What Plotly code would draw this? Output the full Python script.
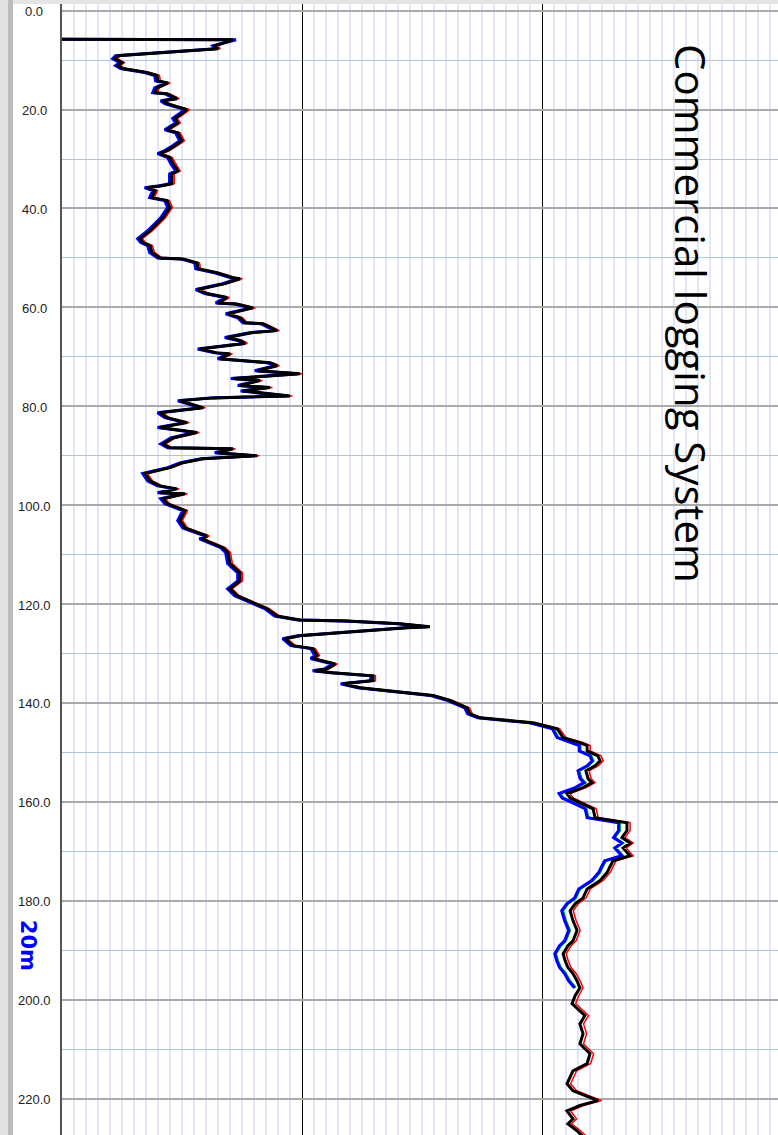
import plotly.graph_objects as go

# ---------------- data ----------------
depth = [5.8, 5.9, 7.1, 7.7, 9.1, 9.7, 10.5, 11.1, 11.7, 12.5, 13.1, 14.2, 14.6, 15.6, 16.6, 16.8, 17.8, 18.2, 18.8, 20.0,
         20.8, 21.8, 22.7, 24.1, 24.7, 26.3, 27.3, 28.3, 28.9, 29.7, 30.9, 32.4, 33.0, 35.0, 35.4, 35.8, 36.4, 37.8, 38.4, 39.8,
         41.9, 43.1, 44.5, 46.1, 46.9, 47.5, 48.9, 50.0, 50.2, 51.0, 52.2, 53.0, 54.0, 54.2, 55.2, 56.4, 57.2, 58.0, 59.1, 59.3,
         60.1, 61.3, 62.1, 63.1, 63.3, 64.7, 65.1, 66.1, 66.7, 67.3, 68.4, 69.2, 69.4, 70.4, 71.2, 71.8, 72.8, 73.4, 74.4, 74.8,
         75.8, 76.2, 76.9, 77.9, 78.3, 78.9, 80.3, 81.3, 82.3, 83.3, 84.3, 85.3, 86.4, 87.6, 88.4, 88.6, 89.4, 90.0, 90.6, 91.4,
         92.4, 93.6, 95.1, 96.1, 96.7, 97.5, 97.7, 98.7, 99.7, 101.1, 103.1, 104.6, 105.8, 106.2, 106.8, 108.6, 109.6, 111.8, 113.7, 115.3,
         116.9, 118.3, 119.7, 120.9, 122.4, 123.2, 123.4, 124.0, 124.6, 124.8, 125.8, 126.4, 127.0, 128.4, 129.0, 130.4, 131.0, 132.1, 133.1, 133.5,
         133.9, 134.5, 135.5, 136.1, 136.9, 137.9, 138.5, 139.5, 141.0, 142.2, 143.0, 144.0, 145.2, 147.0, 148.0, 148.6, 149.7, 150.7, 151.7, 152.7,
         153.7, 155.3, 156.1, 157.1, 158.3, 159.2, 160.8, 161.4, 163.2, 164.2, 165.8, 167.2, 168.3, 169.3, 170.9, 171.9, 173.1, 174.3, 175.9, 177.6,
         179.4, 180.6, 182.0, 184.0, 186.0, 188.1, 189.1, 190.7, 192.1, 193.5, 194.7, 196.2, 197.6, 199.2, 200.8, 203.2, 204.9, 206.9, 208.9, 210.9,
         212.9, 214.4, 217.0, 218.4, 220.4, 221.4, 222.5, 224.1, 225.1, 226.5, 227.5, 228.9]

log_black = [0.0, 71.3, 63.8, 65.0, 23.3, 22.1, 25.0, 23.3, 25.4, 35.4, 39.6, 40.0, 44.2, 39.6, 38.8, 43.8, 47.9, 42.1, 43.8, 52.1,
             50.0, 47.1, 48.3, 43.8, 48.3, 50.0, 47.1, 43.8, 40.8, 45.0, 46.3, 48.3, 45.8, 45.8, 41.7, 35.4, 38.8, 37.5, 43.8, 45.0,
             42.1, 39.6, 36.7, 32.5, 33.8, 36.7, 37.5, 40.8, 50.4, 56.3, 56.7, 64.6, 71.3, 74.2, 67.9, 56.7, 60.4, 68.8, 65.0, 72.9,
             79.6, 69.2, 74.2, 76.3, 83.8, 89.6, 79.6, 68.8, 74.2, 76.3, 57.5, 64.6, 70.0, 65.8, 86.7, 89.6, 81.3, 99.2, 71.3, 82.5,
             74.2, 86.7, 75.4, 95.0, 62.9, 49.2, 58.8, 40.8, 43.8, 52.1, 40.8, 56.3, 46.3, 42.1, 45.0, 71.3, 64.6, 81.3, 58.8, 50.4,
             45.0, 34.6, 36.7, 40.8, 47.9, 40.8, 51.3, 42.1, 43.8, 51.3, 49.2, 51.3, 57.5, 60.4, 58.3, 67.1, 69.2, 70.0, 74.2, 74.2,
             70.0, 72.9, 79.6, 85.4, 89.6, 99.2, 118.8, 140.8, 153.3, 143.8, 115.8, 99.2, 92.9, 96.3, 104.6, 106.3, 104.6, 113.8, 110.4, 105.4,
             112.9, 129.6, 129.6, 117.1, 124.2, 143.8, 154.6, 161.7, 168.8, 170.0, 174.2, 196.3, 206.3, 208.8, 215.8, 218.8, 218.8, 223.3, 224.2, 222.1,
             218.3, 219.2, 220.8, 217.1, 210.4, 211.7, 218.8, 221.3, 222.1, 235.4, 235.4, 233.3, 236.7, 233.8, 236.7, 229.6, 228.3, 227.1, 224.2, 218.8,
             217.1, 213.8, 211.7, 212.9, 214.6, 212.9, 210.8, 208.8, 209.6, 210.8, 212.9, 214.6, 215.8, 213.8, 212.5, 217.9, 215.8, 217.1, 215.8, 220.0,
             218.8, 212.9, 210.4, 212.9, 223.3, 215.8, 210.4, 212.9, 210.8, 214.6, 216.7, 217.5]

log_blue = [0.0, 72.5, 62.8, 64.0, 22.3, 21.1, 24.0, 22.3, 24.4, 34.4, 38.6, 39.0, 43.2, 38.6, 37.8, 42.8, 46.9, 41.1, 42.8, 51.1,
            49.0, 46.1, 47.3, 42.8, 47.3, 49.0, 46.1, 42.8, 39.8, 44.0, 45.3, 47.3, 44.8, 44.8, 40.7, 34.4, 37.8, 36.5, 42.8, 44.0,
            41.1, 38.6, 35.7, 31.5, 32.8, 35.7, 36.5, 39.8, 49.4, 55.3, 55.7, 63.6, 70.3, 73.2, 66.9, 55.7, 59.4, 67.8, 64.0, 71.9,
            78.6, 68.2, 73.2, 75.3, 82.8, 88.6, 78.6, 67.8, 73.2, 75.3, 56.5, 63.6, 69.0, 64.8, 85.7, 88.6, 80.3, 98.2, 70.3, 81.5,
            73.2, 85.7, 74.4, 94.0, 61.9, 48.2, 57.8, 39.8, 42.8, 51.1, 39.8, 55.3, 45.3, 41.1, 44.0, 70.3, 63.6, 80.3, 57.8, 49.4,
            44.0, 33.6, 35.7, 39.8, 46.9, 39.8, 50.3, 41.1, 42.8, 50.3, 48.2, 50.3, 56.5, 59.4, 57.3, 66.1, 68.2, 69.0, 73.2, 73.2,
            69.0, 71.9, 78.6, 84.4, 88.6, 98.2, 117.8, 139.8, 152.3, 142.8, 114.8, 98.2, 91.9, 95.3, 103.6, 105.3, 103.6, 112.8, 109.4, 104.4,
            111.9, 128.6, 128.6, 116.1, 123.2, 142.8, 153.6, 160.7, 167.8, 169.0, 173.2, 194.8, 204.3, 206.3, 212.5, 215.5, 215.5, 220.0, 220.9, 218.8,
            215.0, 215.9, 217.5, 213.8, 207.1, 208.4, 215.5, 218.0, 218.8, 231.9, 231.9, 229.8, 233.2, 230.3, 233.2, 226.1, 224.8, 223.6, 220.7, 215.3,
            213.6, 210.3, 208.2, 209.4, 211.1, 209.4, 207.3, 205.3, 206.1, 207.3, 209.4, 211.1, 213.5]

log_green = [0.0, 71.5, 63.3, 64.5, 22.8, 21.6, 24.5, 22.8, 24.9, 34.9, 39.1, 39.5, 43.7, 39.1, 38.3, 43.3, 47.4, 41.6, 43.3, 51.6,
             49.5, 46.6, 47.8, 43.3, 47.8, 49.5, 46.6, 43.3, 40.3, 44.5, 45.8, 47.8, 45.3, 45.3, 41.2, 34.9, 38.3, 37.0, 43.3, 44.5,
             41.6, 39.1, 36.2, 32.0, 33.3, 36.2, 37.0, 40.3, 49.9, 55.8, 56.2, 64.1, 70.8, 73.7, 67.4, 56.2, 59.9, 68.3, 64.5, 72.4,
             79.1, 68.7, 73.7, 75.8, 83.3, 89.1, 79.1, 68.3, 73.7, 75.8, 57.0, 64.1, 69.5, 65.3, 86.2, 89.1, 80.8, 98.7, 70.8, 82.0,
             73.7, 86.2, 74.9, 94.5, 62.4, 48.7, 58.3, 40.3, 43.3, 51.6, 40.3, 55.8, 45.8, 41.6, 44.5, 70.8, 64.1, 80.8, 58.3, 49.9,
             44.5, 34.1, 36.2, 40.3, 47.4, 40.3, 50.8, 41.6, 43.3, 50.8, 48.7, 50.8, 57.0, 59.9, 57.8, 66.6, 68.7, 69.5, 73.7, 73.7,
             69.5, 72.4, 79.1, 84.9, 89.1, 98.7, 118.3, 140.3, 152.8, 143.3, 115.3, 98.7, 92.4, 95.8, 104.1, 105.8, 104.1, 113.3, 109.9, 104.9,
             112.4, 129.1, 129.1, 116.6, 123.7, 143.3, 154.1, 161.2, 168.3, 169.5, 173.7, 195.3, 204.8, 206.8, 213.0, 216.0, 216.0, 220.5, 221.4, 219.3,
             215.5, 216.4, 218.0, 214.3, 207.6, 208.9, 216.0, 218.5, 219.3, 232.4, 232.4, 230.3, 233.7, 230.8, 233.7, 226.6, 225.3, 224.1, 221.2, 215.8,
             214.1, 210.8, 208.7, 209.9, 211.6, 209.9, 207.8, 205.8, 206.6, 207.8, 209.9, 211.6, 214.0]

log_red = [0.0, 70.5, 64.8, 66.0, 24.3, 23.1, 26.0, 24.3, 26.4, 36.4, 40.6, 41.0, 45.2, 40.6, 39.8, 44.8, 48.9, 43.1, 44.8, 53.1,
           51.0, 48.1, 49.3, 44.8, 49.3, 51.0, 48.1, 44.8, 41.8, 46.0, 47.3, 49.3, 46.8, 46.8, 42.7, 36.4, 39.8, 38.5, 44.8, 46.0,
           43.1, 40.6, 37.7, 33.5, 34.8, 37.7, 38.5, 41.8, 51.4, 57.3, 57.7, 65.6, 72.3, 75.2, 68.9, 57.7, 61.4, 69.8, 66.0, 73.9,
           80.6, 70.2, 75.2, 77.3, 84.8, 90.6, 80.6, 69.8, 75.2, 77.3, 58.5, 65.6, 71.0, 66.8, 87.7, 90.6, 82.3, 100.2, 72.3, 83.5,
           75.2, 87.7, 76.4, 96.0, 63.9, 50.2, 59.8, 41.8, 44.8, 53.1, 41.8, 57.3, 47.3, 43.1, 46.0, 72.3, 65.6, 82.3, 59.8, 51.4,
           46.0, 35.6, 37.7, 41.8, 48.9, 41.8, 52.3, 43.1, 44.8, 52.3, 50.2, 52.3, 58.5, 61.4, 59.3, 68.1, 70.2, 71.0, 75.2, 75.2,
           71.0, 73.9, 80.6, 86.4, 90.6, 100.2, 119.8, 141.8, 151.5, 144.8, 116.8, 100.2, 93.9, 97.3, 105.6, 107.3, 105.6, 114.8, 111.4, 106.4,
           113.9, 130.6, 130.6, 118.1, 125.2, 144.8, 155.6, 162.7, 169.8, 171.0, 175.2, 197.3, 207.3, 210.0, 217.1, 220.1, 220.1, 224.6, 225.5, 223.4,
           219.6, 220.5, 222.1, 218.4, 211.7, 213.0, 220.1, 222.6, 223.4, 236.7, 236.7, 234.6, 238.0, 235.1, 238.0, 230.9, 229.6, 228.4, 225.5, 220.1,
           218.4, 215.1, 213.0, 214.2, 215.9, 214.2, 212.1, 210.1, 210.9, 212.1, 214.2, 215.9, 217.1, 215.3, 214.0, 219.4, 217.3, 218.6, 217.3, 221.5,
           220.3, 214.4, 211.9, 214.4, 224.8, 217.3, 211.9, 214.4, 212.3, 216.1, 218.2, 219.0]

tick_values = [0, 20, 40, 60, 80, 100, 120, 140, 160, 180, 200, 220]
tick_labels = ["0.0", "20.0", "40.0", "60.0", "80.0", "100.0", "120.0", "140.0", "160.0", "180.0", "200.0", "220.0"]

depth_label = "20m"
title_text = "Commercial logging System"

# ---------------- figure ----------------
fig = go.Figure()

series = [
    (log_red, "#ff0000", 1.5),
    (log_green, "#00b000", 2.5),
    (log_blue, "#0000ff", 3),
    (log_black, "#000000", 3),
]
for vals, color, width in series:
    fig.add_trace(go.Scatter(
        x=vals, y=depth[:len(vals)], mode="lines",
        line=dict(color=color, width=width),
        hoverinfo="skip", showlegend=False,
    ))

# window-like gray strips
fig.add_shape(type="rect", xref="paper", yref="paper", x0=-0.0866, x1=1.0, y0=1.0, y1=1.004,
              line=dict(width=0), fillcolor="#e4e4e4", layer="above")
fig.add_shape(type="rect", xref="paper", yref="paper", x0=-0.0866, x1=-0.0754, y0=-0.01, y1=1.01,
              line=dict(width=0), fillcolor="#e2e2e2", layer="above")
fig.add_shape(type="rect", xref="paper", yref="paper", x0=-0.0754, x1=-0.0684, y0=-0.01, y1=1.01,
              line=dict(width=0), fillcolor="#bcbcbc", layer="above")

annotations = []
for v, lab in zip(tick_values, tick_labels):
    annotations.append(dict(
        x=-0.0391, xref="paper", y=v, yref="y", text=lab, showarrow=False,
        xanchor="center", yanchor="middle", yshift=-1,
        font=dict(family="Liberation Sans, Arial", size=13, color="#222222"),
    ))
annotations.append(dict(
    x=-0.0475, xref="paper", y=189.1, yref="y", text="<b>%s</b>" % depth_label, showarrow=False,
    textangle=90, xanchor="center", yanchor="middle",
    font=dict(family="DejaVu Sans", size=21, color="#0000ff"),
))
annotations.append(dict(
    x=262, xref="x", y=61.3, yref="y", text=title_text, showarrow=False,
    textangle=90, xanchor="center", yanchor="middle",
    font=dict(family="Open Sans", size=42, color="#000000"),
))

fig.update_layout(
    width=778, height=1135,
    margin=dict(l=62, r=0, t=4, b=0),
    paper_bgcolor="#ffffff", plot_bgcolor="#ffffff",
    showlegend=False,
    annotations=annotations,
    xaxis=dict(
        range=[0, 298.33], dtick=100, tick0=0,
        showgrid=True, gridcolor="#000000", gridwidth=1,
        minor=dict(dtick=5, showgrid=True, gridcolor="#e6e6fa", gridwidth=1.5),
        showticklabels=False, ticks="", zeroline=False, showline=False,
    ),
    yaxis=dict(
        range=[227.36, -1.35], dtick=20, tick0=0,
        showgrid=True, gridcolor="#a9a9a9", gridwidth=2,
        minor=dict(dtick=10, showgrid=True, gridcolor="#b0c4de", gridwidth=1),
        showticklabels=False, ticks="", zeroline=False,
        showline=True, linecolor="#555555", linewidth=2,
    ),
)

fig.write_html(
    "out.html",
    config={"displayModeBar": False},
    post_script="document.body.style.margin='0';document.body.style.padding='0';",
)
